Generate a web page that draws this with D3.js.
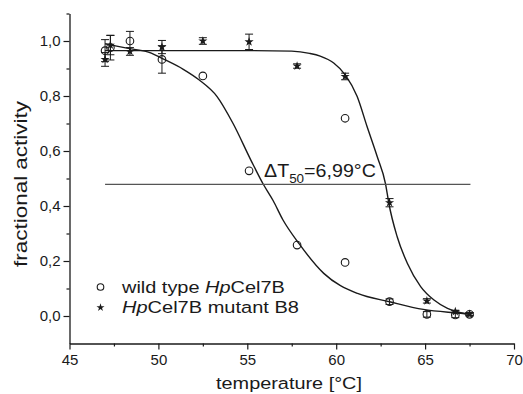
<!DOCTYPE html>
<html><head><meta charset="utf-8">
<script src="https://cdn.jsdelivr.net/npm/d3@7"></script>
<style>
body{margin:0;background:#fff}
svg{display:block}
text{font-family:"Liberation Sans",Arial,Helvetica,sans-serif;fill:#1a1a1a}
</style>
</head><body>
<svg id="c" width="523" height="394"></svg>
<script>
// ---- data ----
const xTickValues = [45, 50, 55, 60, 65, 70];
const xMinorTicks = [47.5, 52.5, 57.5, 62.5, 67.5];
const yTickValues = [0, 0.2, 0.4, 0.6, 0.8, 1.0];
const yMinorTicks = [0.1, 0.3, 0.5, 0.7, 0.9, 1.1];

// wild type HpCel7B (open circles)
const wildTemp     = [47.0, 47.3, 48.4, 50.2, 52.5, 55.1, 57.8, 60.5, 60.5, 63.0, 65.1, 66.7, 67.5];
const wildActivity = [0.965, 0.976, 1.0, 0.933, 0.873, 0.528, 0.258, 0.719, 0.195, 0.052, 0.006, 0.004, 0.006];
const wildError    = [0.04, 0.045, 0.035, 0.05, 0, 0, 0, 0, 0, 0.01, 0.01, 0.01, 0.006];

// HpCel7B mutant B8 (stars)
const mutTemp     = [47.0, 47.3, 48.4, 50.2, 52.5, 55.1, 57.8, 60.5, 63.0, 65.1, 66.7, 67.5];
const mutActivity = [0.933, 0.985, 0.962, 0.978, 1.0, 0.997, 0.909, 0.871, 0.412, 0.055, 0.016, 0.007];
const mutError    = [0.025, 0.035, 0.014, 0.024, 0.012, 0.028, 0.008, 0.012, 0.015, 0.008, 0.005, 0.005];

// fitted curves (points read along the drawn fits)
const wildFitTemp = [47.0, 48.3, 49.6, 50.2, 51.4, 52.3, 53.3, 54.2, 55.2, 55.9, 56.45, 57.0, 57.9, 59.3, 61.2, 63.0, 64.9, 66.6, 67.55];
const wildFitAct  = [0.99, 0.973, 0.956, 0.937, 0.897, 0.858, 0.798, 0.70, 0.567, 0.479, 0.42, 0.35, 0.264, 0.155, 0.082, 0.052, 0.024, 0.012, 0.007];
const mutFitTemp = [47.0, 55.2, 57.5, 58.5, 59.1, 59.86, 60.52, 61.18, 61.74, 62.31, 62.78, 62.96, 63.43, 64.0, 64.75, 65.5, 66.26, 67.0, 67.55];
const mutFitAct  = [0.965, 0.965, 0.963, 0.955, 0.945, 0.92, 0.876, 0.798, 0.688, 0.579, 0.479, 0.41, 0.288, 0.192, 0.107, 0.058, 0.028, 0.012, 0.007];

// ΔT50 reference line
const halfLineTemp = [47.0, 67.55];
const halfLineAct  = [0.479, 0.479];

// ---- drawing ----
const svg = d3.select('#c');
const x = d3.scaleLinear().domain([45, 70]).range([69.5, 514]);
const y = d3.scaleLinear().domain([-0.1, 1.1]).range([343.5, 13.5]);
const fmt = v => d3.format('.1f')(v).replace('.', ',');
const ink = '#1a1a1a';

function styleAxis(g) {
  g.selectAll('path.domain').attr('stroke', ink).attr('stroke-width', 1.3);
  g.selectAll('.tick line').attr('stroke', ink).attr('stroke-width', 1.2);
  g.selectAll('.tick text').attr('font-size', 15).attr('fill', ink)
    .style('font-family', '"Liberation Sans",Arial,sans-serif');
}

// x axis
const gx = svg.append('g').attr('transform', `translate(0,${y(-0.1)})`)
  .call(d3.axisBottom(x).tickValues(xTickValues).tickFormat(d3.format('d'))
    .tickSize(6).tickSizeOuter(0).tickPadding(4.5));
styleAxis(gx);
const gxm = svg.append('g').attr('transform', `translate(0,${y(-0.1)})`)
  .call(d3.axisBottom(x).tickValues(xMinorTicks).tickFormat('').tickSize(3).tickSizeOuter(0));
styleAxis(gxm); gxm.select('path.domain').remove();

// y axis
const gy = svg.append('g').attr('transform', `translate(${x(45)},0)`)
  .call(d3.axisLeft(y).tickValues(yTickValues).tickFormat(fmt)
    .tickSize(6).tickSizeOuter(0).tickPadding(3));
styleAxis(gy);
const gym = svg.append('g').attr('transform', `translate(${x(45)},0)`)
  .call(d3.axisLeft(y).tickValues(yMinorTicks).tickFormat('').tickSize(3).tickSizeOuter(0));
styleAxis(gym); gym.select('path.domain').remove();

// stretched text helper
function label(px, py, rot, width, build, anchor) {
  const g = svg.append('g').attr('transform', `translate(${px},${py}) rotate(${rot})`);
  const t = g.append('text').attr('text-anchor', anchor || 'start');
  build(t);
  const w = t.node().getComputedTextLength();
  t.attr('transform', `scale(${width / w},1)`);
  return t;
}

// axis titles
label(289, 389, 0, 146, t => t.attr('font-size', 17).text('temperature [°C]'), 'middle');
label(27, 184, -90, 166, t => t.attr('font-size', 18).text('fractional activity'), 'middle');

// fits
const line = d3.line().x(d => x(d[0])).y(d => y(d[1])).curve(d3.curveMonotoneX);
svg.append('path').datum(d3.zip(wildFitTemp, wildFitAct)).attr('d', line)
  .attr('fill', 'none').attr('stroke', ink).attr('stroke-width', 1.4);
svg.append('path').datum(d3.zip(mutFitTemp, mutFitAct)).attr('d', line)
  .attr('fill', 'none').attr('stroke', ink).attr('stroke-width', 1.4);
svg.append('path').datum(d3.zip(halfLineTemp, halfLineAct)).attr('d', d3.line().x(d => x(d[0])).y(d => y(d[1])))
  .attr('fill', 'none').attr('stroke', '#555').attr('stroke-width', 1.3);

// annotation
label(264, 177, 0, 112, t => {
  t.attr('font-size', 19);
  t.append('tspan').text('ΔT');
  t.append('tspan').attr('font-size', 13).attr('dy', 5.5).text('50');
  t.append('tspan').attr('dy', -5.5).text('=6,99°C');
});

// error bars
function errBars(temps, vals, errs) {
  const g = svg.append('g').attr('stroke', ink).attr('stroke-width', 1).attr('fill', 'none');
  temps.forEach((t, i) => {
    if (!errs[i]) return;
    const cx = x(t), y0 = y(vals[i] - errs[i]), y1 = y(vals[i] + errs[i]);
    g.append('line').attr('x1', cx).attr('x2', cx).attr('y1', y0).attr('y2', y1);
    g.append('line').attr('x1', cx - 4).attr('x2', cx + 4).attr('y1', y0).attr('y2', y0);
    g.append('line').attr('x1', cx - 4).attr('x2', cx + 4).attr('y1', y1).attr('y2', y1);
  });
}
errBars(wildTemp, wildActivity, wildError);
errBars(mutTemp, mutActivity, mutError);

// markers
svg.append('g').selectAll('circle').data(d3.zip(wildTemp, wildActivity)).join('circle')
  .attr('cx', d => x(d[0])).attr('cy', d => y(d[1])).attr('r', 3.8)
  .attr('fill', 'none').attr('stroke', ink).attr('stroke-width', 1.1);
const star = d3.symbol(d3.symbolStar, 26);
svg.append('g').selectAll('path').data(d3.zip(mutTemp, mutActivity)).join('path')
  .attr('d', star).attr('transform', d => `translate(${x(d[0])},${y(d[1])})`)
  .attr('fill', ink);

// legend
svg.append('circle').attr('cx', 100.5).attr('cy', 287).attr('r', 3.3)
  .attr('fill', 'none').attr('stroke', ink).attr('stroke-width', 1.1);
svg.append('path').attr('d', d3.symbol(d3.symbolStar, 20)).attr('transform', 'translate(100.5,307.5)').attr('fill', ink);
label(122, 292.5, 0, 163, t => {
  t.attr('font-size', 17);
  t.append('tspan').text('wild type ');
  t.append('tspan').attr('font-style', 'italic').text('Hp');
  t.append('tspan').text('Cel7B');
});
label(122, 312.5, 0, 177, t => {
  t.attr('font-size', 17);
  t.append('tspan').attr('font-style', 'italic').text('Hp');
  t.append('tspan').text('Cel7B mutant B8');
});
</script>
</body></html>
